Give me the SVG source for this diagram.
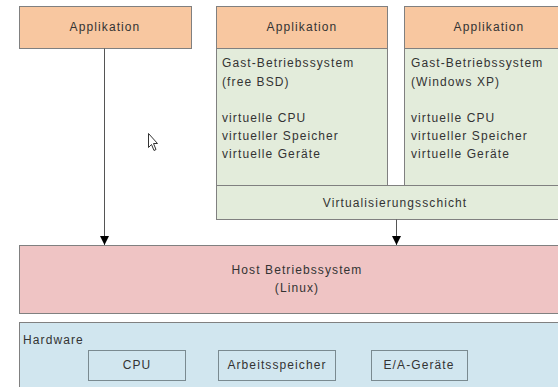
<svg xmlns="http://www.w3.org/2000/svg" width="558" height="387" viewBox="0 0 558 387">
  <defs>
    <marker id="arrow" viewBox="0 0 10 10" refX="10" refY="5" markerWidth="9" markerHeight="9" markerUnits="userSpaceOnUse" orient="auto">
      <path d="M0,0 L10,5 L0,10 Z" fill="#000"/>
    </marker>
  </defs>
  <style>
    .box { stroke: #808080; stroke-width: 1; }
    .app { fill: #f8c7a0; }
    .guest { fill: #e3ecdb; }
    .host { fill: #efc4c4; }
    .hw { fill: #d1e6ef; }
    .part { fill: none; stroke: #7a8a90; stroke-width: 1; }
    text { font-family: "Liberation Sans", Arial, sans-serif; font-size: 12px; fill: #333; letter-spacing: 1.1px; }
    .c { text-anchor: middle; }
    .link { stroke: #555; stroke-width: 1; fill: none; marker-end: url(#arrow); }
  </style>

  <rect width="558" height="387" fill="#fff"/>

  <!-- native application on the host -->
  <g id="app-native">
    <rect class="box app" x="19.5" y="6.5" width="172" height="42"/>
    <text class="c" x="105" y="31">Applikation</text>
  </g>

  <!-- guest VM 1 -->
  <g id="vm-bsd">
    <rect class="box guest" x="216.5" y="48.5" width="171" height="137"/>
    <rect class="box app" x="216.5" y="6.5" width="171" height="42"/>
    <text class="c" x="302" y="31">Applikation</text>
    <text x="222" y="67">Gast-Betriebssystem</text>
    <text x="222" y="86">(free BSD)</text>
    <text x="222" y="122">virtuelle CPU</text>
    <text x="222" y="140">virtueller Speicher</text>
    <text x="222" y="158">virtuelle Geräte</text>
  </g>

  <!-- guest VM 2 -->
  <g id="vm-xp">
    <rect class="box guest" x="404.5" y="48.5" width="170" height="137"/>
    <rect class="box app" x="404.5" y="6.5" width="170" height="42"/>
    <text class="c" x="489" y="31">Applikation</text>
    <text x="411" y="67">Gast-Betriebssystem</text>
    <text x="411" y="86">(Windows XP)</text>
    <text x="411" y="122">virtuelle CPU</text>
    <text x="411" y="140">virtueller Speicher</text>
    <text x="411" y="158">virtuelle Geräte</text>
  </g>

  <!-- virtualisation layer -->
  <g id="virt-layer">
    <rect class="box guest" x="216.5" y="185.5" width="358" height="34"/>
    <text class="c" x="395" y="207">Virtualisierungsschicht</text>
  </g>

  <!-- host OS -->
  <g id="host-os">
    <rect class="box host" x="19.5" y="245.5" width="556" height="68"/>
    <text class="c" x="297" y="274">Host Betriebssystem</text>
    <text class="c" x="297" y="292">(Linux)</text>
  </g>

  <!-- hardware -->
  <g id="hardware">
    <rect class="box hw" x="19.5" y="322.5" width="556" height="70"/>
    <text x="23" y="344">Hardware</text>
    <rect class="part" x="88.5" y="350.5" width="97" height="30"/>
    <text class="c" x="137" y="369">CPU</text>
    <rect class="part" x="218.5" y="350.5" width="117" height="30"/>
    <text class="c" x="277" y="369">Arbeitsspeicher</text>
    <rect class="part" x="371.5" y="350.5" width="96" height="30"/>
    <text class="c" x="419" y="369">E/A-Geräte</text>
  </g>

  <!-- connectors -->
  <g id="connectors">
    <line class="link" x1="104.5" y1="48.5" x2="104.5" y2="245"/>
    <line class="link" x1="396.5" y1="219.5" x2="396.5" y2="245"/>
  </g>

  <!-- mouse pointer -->
  <g id="pointer">
    <path d="M148.5,133.5 L148.5,147.5 L151.5,144.5 L154,150.5 L156,149.5 L153.5,143.5 L157.5,143.5 Z" fill="#fff" stroke="#333" stroke-width="1"/>
  </g>
</svg>
